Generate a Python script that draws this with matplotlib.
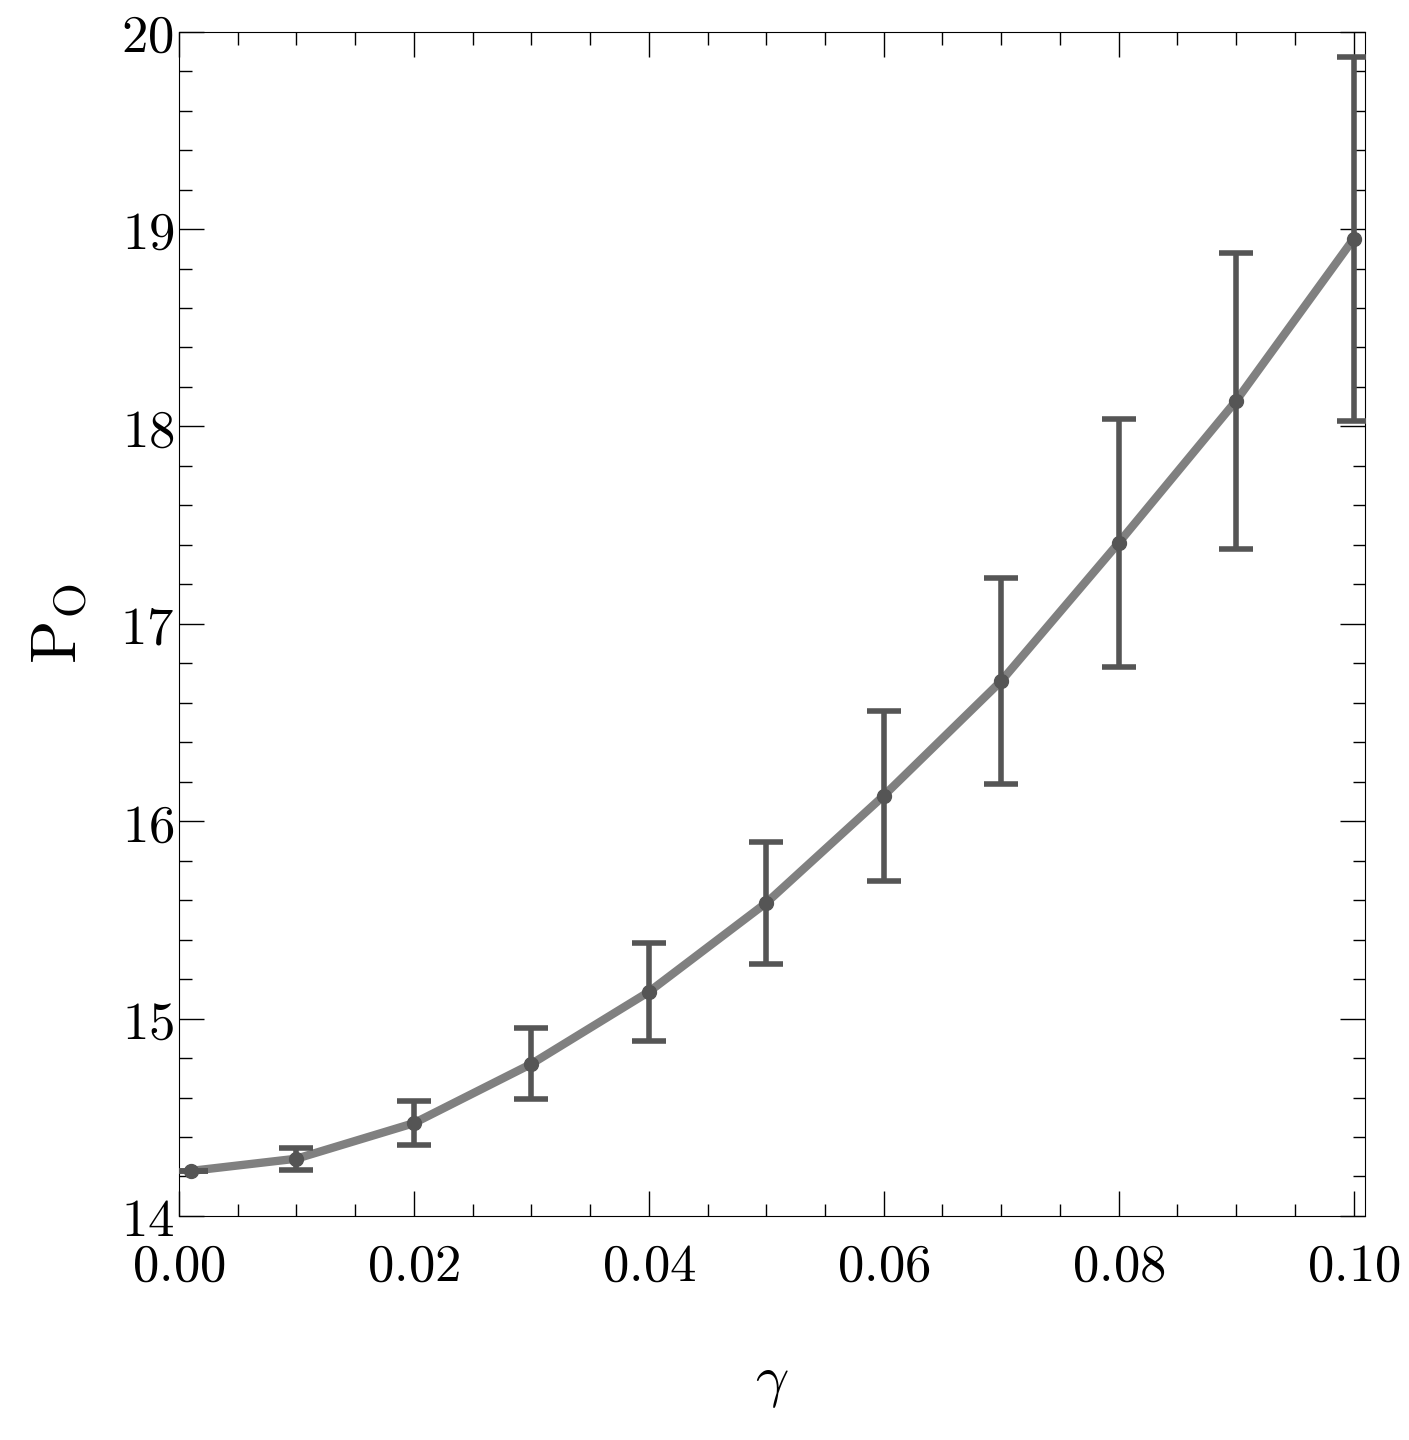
import matplotlib
matplotlib.use("Agg")
import matplotlib.pyplot as plt
from matplotlib.ticker import MultipleLocator, FormatStrFormatter

plt.rcParams['mathtext.fontset'] = 'cm'
plt.rcParams['font.family'] = 'serif'
plt.rcParams['font.serif'] = ['DejaVu Serif']

gamma = [0.001, 0.01, 0.02, 0.03, 0.04, 0.05, 0.06, 0.07, 0.08, 0.09, 0.10]
po = [14.228, 14.29, 14.47, 14.77, 15.135, 15.586, 16.129, 16.71, 17.41, 18.13, 18.95]
err = [0.0, 0.056, 0.11, 0.18, 0.25, 0.31, 0.43, 0.52, 0.63, 0.75, 0.92]

fig = plt.figure(figsize=(14.09, 14.4), dpi=100)
ax = fig.add_axes([0.127, 0.1556, 0.842, 0.8224])
ax.plot(gamma, po, color='#808080', lw=6, zorder=2)
ax.errorbar(gamma, po, yerr=err, fmt='o', color='#555555', ms=10, elinewidth=4,
            capsize=12, capthick=4, zorder=3)
ax.set_xlim(0, 0.101)
ax.set_ylim(14, 20)
ax.xaxis.set_major_locator(MultipleLocator(0.02))
ax.xaxis.set_minor_locator(MultipleLocator(0.005))
ax.yaxis.set_major_locator(MultipleLocator(1))
ax.yaxis.set_minor_locator(MultipleLocator(0.2))
ax.xaxis.set_major_formatter(FormatStrFormatter('$%.2f$'))
ax.yaxis.set_major_formatter(FormatStrFormatter('$%d$'))
ax.tick_params(which='both', direction='in', top=True, right=True, labelsize=38)
ax.tick_params(which='major', length=18, width=1)
ax.tick_params(which='minor', length=9, width=1)
ax.tick_params(axis='x', pad=18)
ax.set_xlabel(r'$\gamma$', fontsize=42, labelpad=45)
ax.set_ylabel(r'$\mathrm{P}_\mathrm{O}$', fontsize=46, labelpad=22)
fig.savefig('out.png', dpi=100)
